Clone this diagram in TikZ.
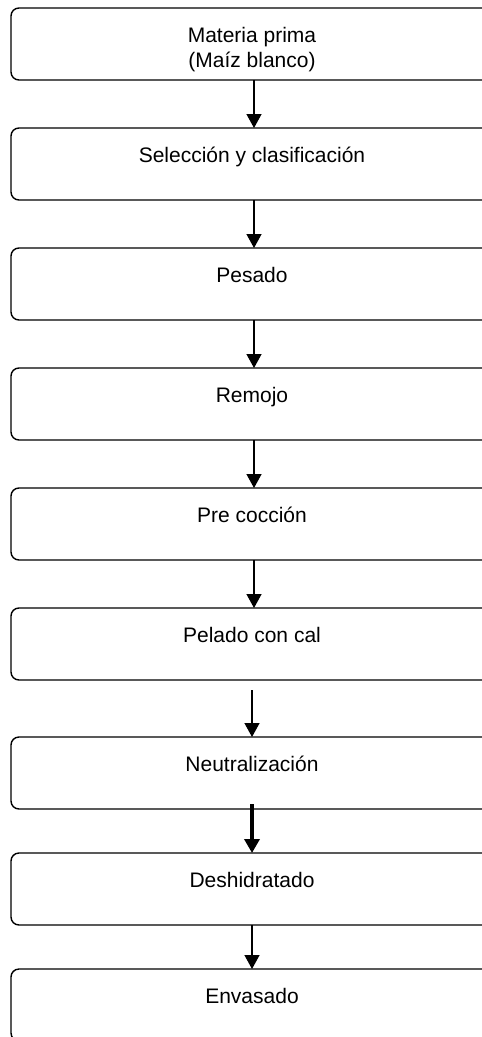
\documentclass[tikz,border=0pt]{standalone}
\usepackage{fontspec}
\setmainfont{Liberation Sans}
\usetikzlibrary{arrows.meta}
\begin{document}
\begin{tikzpicture}[x=1pt,y=-1pt,
  stage/.style={draw, line width=1.4pt, rounded corners=8pt, minimum width=490pt, minimum height=72pt, inner sep=0pt, outer sep=0pt, anchor=north west},
  lbl/.style={font=\fontsize{21}{25}\selectfont, align=center, anchor=base, inner sep=0pt},
  flow/.style={-{Triangle[width=15pt,length=14pt]}, line width=1.4pt}]
\useasboundingbox (0,0) rectangle (482,1037);
\clip (0,0) rectangle (482,1037);
\node[stage] (b1) at (11,8) {};
\node[stage] (b2) at (11,128) {};
\node[stage] (b3) at (11,248) {};
\node[stage] (b4) at (11,368) {};
\node[stage] (b5) at (11,488) {};
\node[stage] (b6) at (11,608) {};
\node[stage] (b7) at (11,737) {};
\node[stage] (b8) at (11,853) {};
\node[stage] (b9) at (11,969) {};
\node[lbl] (t1) at (252,67) {Materia prima\\(Maíz blanco)};
\node[lbl] (t2) at (252,162) {Selección y clasificación};
\node[lbl] (t3) at (252,282) {Pesado};
\node[lbl] (t4) at (252,402) {Remojo};
\node[lbl] (t5) at (252,522) {Pre cocción};
\node[lbl] (t6) at (252,642) {Pelado con cal};
\node[lbl] (t7) at (252,771) {Neutralización};
\node[lbl] (t8) at (252,887) {Deshidratado};
\node[lbl] (t9) at (252,1003) {Envasado};
\draw[flow] ([xshift=-2pt]b1.south) -- ([xshift=-2pt]b2.north);
\draw[flow] ([xshift=-2pt]b2.south) -- ([xshift=-2pt]b3.north);
\draw[flow] ([xshift=-2pt]b3.south) -- ([xshift=-2pt]b4.north);
\draw[flow] ([xshift=-2pt]b4.south) -- ([xshift=-2pt]b5.north);
\draw[flow] ([xshift=-2pt]b5.south) -- ([xshift=-2pt]b6.north);
\draw[flow] ([xshift=-4pt,yshift=-10pt]b6.south) -- ([xshift=-4pt]b7.north);
\draw[flow, line width=3.4pt] ([xshift=-4pt,yshift=5pt]b7.south) -- ([xshift=-4pt]b8.north);
\draw[flow] ([xshift=-4pt]b8.south) -- ([xshift=-4pt]b9.north);
\end{tikzpicture}
\end{document}
